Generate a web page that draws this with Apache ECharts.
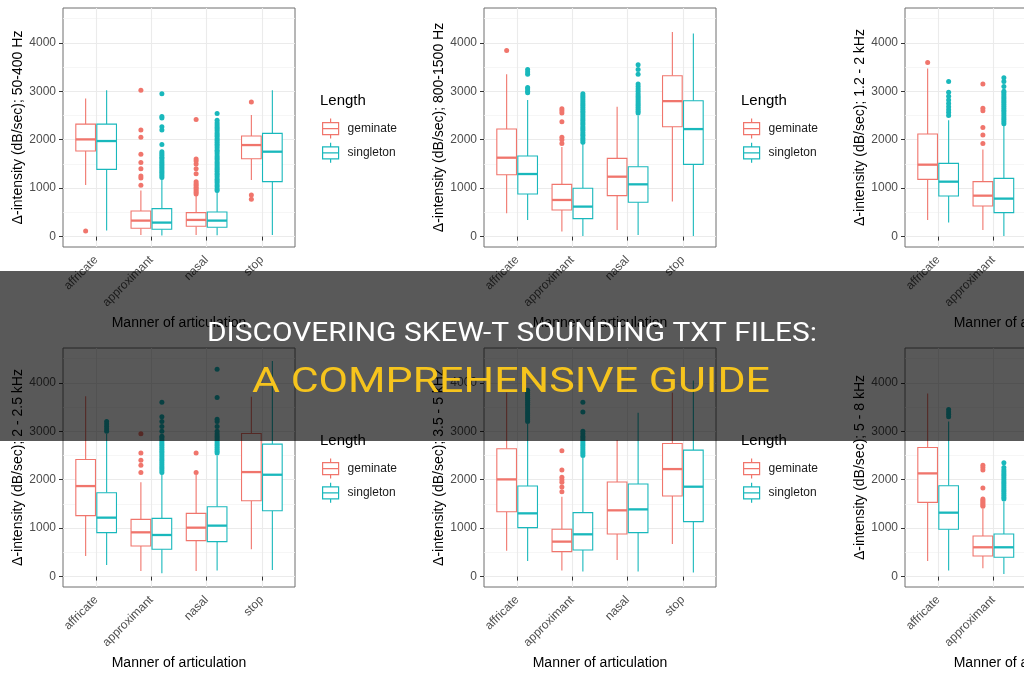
<!DOCTYPE html>
<html><head><meta charset="utf-8">
<script src="https://cdn.jsdelivr.net/npm/echarts@6/dist/echarts.min.js"></script>
<style>html,body{margin:0;padding:0;background:#fff;overflow:hidden;width:1024px;height:680px}#c{width:1270px;height:680px}</style>
</head><body><div id="c"></div>
<script>
const categories = ['affricate', 'approximant', 'nasal', 'stop'];
const groups = ['geminate', 'singleton'];
const yTicks = [0, 1000, 2000, 3000, 4000];
const yMinorTicks = [500, 1500, 2500, 3500, 4500];
const yTitles = [
  'Δ-intensity (dB/sec); 50-400 Hz',
  'Δ-intensity (dB/sec); 800-1500 Hz',
  'Δ-intensity (dB/sec); 1.2 - 2 kHz',
  'Δ-intensity (dB/sec); 2 - 2.5 kHz',
  'Δ-intensity (dB/sec); 3.5 - 5 kHz',
  'Δ-intensity (dB/sec); 5 - 8 kHz'
];
const xTitle = 'Manner of articulation';
const legendTitle = 'Length';
const bannerLine1 = 'DISCOVERING SKEW-T SOUNDING TXT FILES:';
const bannerLine2 = 'A COMPREHENSIVE GUIDE';

// box stats per category: [lower whisker, Q1, median, Q3, upper whisker]
const p1Gem = [[1065,1766,2007,2323,2852],[34,172,330,529,950],[34,213,344,495,880],[1168,1608,1890,2076,2509]];
const p1Sin = [[124,1388,1973,2323,3024],[21,151,289,577,1200],[27,192,330,509,940],[34,1134,1753,2131,3024]];
const p2Gem = [[481,1278,1629,2220,3354],[103,550,756,1079,1850],[137,845,1237,1615,2680],[722,2268,2797,3320,4227]];
const p2Sin = [[344,880,1292,1663,2818],[14,371,619,997,1930],[34,708,1079,1443,2500],[14,1491,2220,2804,4192]];
const p3Gem = [[344,1182,1485,2117,3471],[137,632,845,1134,1800],[200,800,1200,1700,2800],[500,1900,2600,3200,4200]];
const p3Sin = [[289,838,1134,1512,2400],[14,495,784,1203,2300],[100,700,1100,1600,2900],[50,1300,2000,2700,4100]];
const p4Gem = [[426,1258,1869,2419,3725],[117,632,914,1182,1950],[117,742,1010,1306,2100],[564,1567,2158,2955,3711]];
const p4Sin = [[241,907,1217,1732,2950],[69,564,859,1203,2150],[124,722,1052,1443,2500],[137,1361,2103,2735,4454]];
const p5Gem = [[536,1340,2007,2639,3800],[124,515,722,976,1650],[344,880,1368,1952,2818],[674,1663,2220,2749,3800]];
const p5Sin = [[323,1010,1306,1869,3150],[103,550,873,1320,2450],[103,907,1388,1911,3381],[82,1134,1856,2612,4050]];
const p6Gem = [[323,1533,2131,2667,3780],[172,426,605,838,1400],[100,600,900,1300,2300],[300,1500,2100,2700,4000]];
const p6Sin = [[124,976,1320,1876,3200],[55,399,605,880,1550],[50,500,800,1200,2200],[50,1000,1600,2300,3900]];

// outliers per category
const p1GemOut = [[117],[1060,1210,1250,1400,1530,1700,2050,2200,3020],[880,915,950,990,1020,1060,1090,1130,1300,1400,1500,1560,1600,2420],[770,860,2780]];
const p1SinOut = [[],[1220,1255,1290,1330,1360,1395,1430,1470,1500,1535,1570,1610,1640,1680,1715,1750,1900,2200,2270,2450,2480,2950],
  [950,985,1030,1065,1110,1150,1185,1230,1270,1305,1350,1390,1425,1470,1510,1545,1590,1630,1665,1710,1750,1785,1830,1870,1905,1950,1990,2025,2070,2110,2145,2190,2230,2270,2310,2350,2400,2540],[]];
const p2GemOut = [[3842],[1920,2000,2050,2370,2550,2600,2640],[],[]];
const p2SinOut = [[2970,3000,3050,3080,3350,3400,3450],
  [1950,1990,2030,2075,2110,2150,2195,2230,2270,2315,2350,2390,2430,2470,2510,2550,2590,2630,2670,2710,2750,2790,2830,2870,2910,2950],
  [2550,2590,2630,2670,2710,2750,2790,2830,2870,2910,2950,3000,3050,3100,3150,3350,3450,3550],[]];
const p3GemOut = [[3595],[1920,2100,2250,2600,2650,3150],[],[]];
const p3SinOut = [[2500,2560,2620,2680,2750,2820,2900,2980,3200],
  [2330,2370,2410,2450,2490,2530,2575,2610,2650,2690,2730,2775,2810,2850,2890,2930,2970,3000,3100,3200,3280],[],[]];
const p4GemOut = [[],[2150,2300,2400,2550,2950],[2150,2550],[]];
const p4SinOut = [[3000,3050,3100,3150,3200],
  [2150,2190,2230,2270,2310,2350,2390,2430,2470,2510,2550,2590,2630,2670,2710,2750,2790,2830,2870,2900,3000,3100,3200,3300,3600],
  [2550,2590,2630,2670,2710,2750,2790,2830,2870,2910,2950,3000,3100,3200,3250,3700,4280],[]];
const p5GemOut = [[],[1750,1850,1950,2000,2050,2200,2600],[],[]];
const p5SinOut = [[3200,3240,3280,3320,3360,3400,3440,3480,3520,3560,3600,3640,3680,3720,3760,3800,3850],
  [2500,2540,2580,2620,2660,2700,2740,2780,2820,2860,2900,2950,3000,3400,3600],[],[]];
const p6GemOut = [[],[1450,1480,1510,1540,1570,1600,1830,2200,2250,2300],[],[]];
const p6SinOut = [[3300,3350,3400,3450],
  [1600,1640,1680,1720,1760,1800,1840,1880,1920,1960,2000,2040,2080,2120,2160,2200,2250,2350],[],[]];

const panelStats = [[p1Gem,p1Sin],[p2Gem,p2Sin],[p3Gem,p3Sin],[p4Gem,p4Sin],[p5Gem,p5Sin],[p6Gem,p6Sin]];
const panelOut = [[p1GemOut,p1SinOut],[p2GemOut,p2SinOut],[p3GemOut,p3SinOut],[p4GemOut,p4SinOut],[p5GemOut,p5SinOut],[p6GemOut,p6SinOut]];

// ---------- styling / layout ----------
const FONT = '"Liberation Sans", Arial, Helvetica, sans-serif';
const COLORS = ['#F0756C', '#19B8BC'];
const DODGE = 0.19, HALF = 0.178;
const G_LEFT = 63, G_TOP = 8, G_W = 232, G_H = 239, COL_STEP = 421, ROW_STEP = 340;
const Y_MIN = -215, Y_MAX = 4720;

function boxRenderer(color) {
  return function (params, api) {
    const x = api.value(0);
    const pMin = api.coord([x, api.value(1)]);
    const pQ1 = api.coord([x, api.value(2)]);
    const pMed = api.coord([x, api.value(3)]);
    const pQ3 = api.coord([x, api.value(4)]);
    const pMax = api.coord([x, api.value(5)]);
    const l = api.coord([x - HALF, 0])[0];
    const r = api.coord([x + HALF, 0])[0];
    const ls = { stroke: color, lineWidth: 1.1 };
    return {
      type: 'group',
      children: [
        { type: 'line', shape: { x1: pMin[0], y1: pMin[1], x2: pQ1[0], y2: pQ1[1] }, style: ls },
        { type: 'line', shape: { x1: pQ3[0], y1: pQ3[1], x2: pMax[0], y2: pMax[1] }, style: ls },
        { type: 'rect', shape: { x: l, y: pQ3[1], width: r - l, height: pQ1[1] - pQ3[1] }, style: { fill: '#fff', stroke: color, lineWidth: 1.1 } },
        { type: 'line', shape: { x1: l, y1: pMed[1], x2: r, y2: pMed[1] }, style: { stroke: color, lineWidth: 2.3 } }
      ]
    };
  };
}

const grid = [], xAxis = [], yAxis = [], series = [], legend = [], title = [];
const legendIcon = 'path://M1,4L17,4L17,16L1,16Z M1,10L17,10 M9,0L9,4 M9,16L9,20';

for (let p = 0; p < 6; p++) {
  const col = p % 3, row = Math.floor(p / 3);
  const gl = G_LEFT + col * COL_STEP, gt = G_TOP + row * ROW_STEP;
  grid.push({ left: gl, top: gt, width: G_W, height: G_H, show: true, borderColor: '#6e6e6e', borderWidth: 1, backgroundColor: '#fff' });
  xAxis.push({
    gridIndex: p, type: 'value', min: 0.4, max: 4.6,
    name: xTitle, nameLocation: 'middle', nameGap: 69,
    nameTextStyle: { fontFamily: FONT, fontSize: 14, color: '#000' },
    axisLine: { show: false },
    axisTick: { show: true, customValues: [1, 2, 3, 4], length: 4, lineStyle: { color: '#333' } },
    axisLabel: { customValues: [1, 2, 3, 4], rotate: 45, margin: 11, fontFamily: FONT, fontSize: 12, color: '#4d4d4d',
      formatter: v => categories[Math.round(v) - 1] },
    splitLine: { show: true, lineStyle: { color: '#ebebeb', width: 1.1 } }
  });
  yAxis.push({
    gridIndex: p, type: 'value', min: Y_MIN, max: Y_MAX,
    name: yTitles[p], nameLocation: 'middle', nameGap: 37, nameRotate: 90,
    nameTextStyle: { fontFamily: FONT, fontSize: 14, color: '#000' },
    axisLine: { show: false },
    axisTick: { show: true, customValues: yTicks, length: 4, lineStyle: { color: '#333' } },
    axisLabel: { customValues: yTicks, margin: 7, fontFamily: FONT, fontSize: 12, color: '#4d4d4d',
      formatter: v => String(v) },
    splitLine: { show: true, lineStyle: { color: '#ebebeb', width: 1.1 } }
  });
  yAxis.push({
    gridIndex: p, type: 'value', min: Y_MIN, max: Y_MAX, position: 'left',
    axisLine: { show: false }, axisLabel: { show: false },
    axisTick: { show: false, customValues: yMinorTicks },
    splitLine: { show: true, lineStyle: { color: '#f4f4f4', width: 0.8 } }
  });
  for (let g = 0; g < 2; g++) {
    const off = g === 0 ? -DODGE : DODGE;
    const boxData = panelStats[p][g].map((s, i) => [i + 1 + off].concat(s));
    series.push({
      type: 'custom', name: groups[g], xAxisIndex: p, yAxisIndex: p * 2, z: 3,
      itemStyle: { color: COLORS[g] },
      encode: { x: 0, y: [1, 2, 3, 4, 5] },
      renderItem: boxRenderer(COLORS[g]),
      data: boxData, silent: true
    });
    const pts = [];
    panelOut[p][g].forEach((vals, i) => vals.forEach(v => pts.push([i + 1 + off, v])));
    series.push({
      type: 'scatter', name: groups[g], xAxisIndex: p, yAxisIndex: p * 2, z: 4,
      symbolSize: 5, itemStyle: { color: COLORS[g], opacity: 1 }, data: pts, silent: true
    });
  }
  legend.push({
    left: gl + 259, top: gt + 110, orient: 'vertical', itemWidth: 18, itemHeight: 20, itemGap: 3,
    selectedMode: false, padding: 0, icon: legendIcon,
    textStyle: { fontFamily: FONT, fontSize: 12, color: '#1a1a1a', padding: [0, 0, 0, 3] },
    data: groups.map((n, i) => ({ name: n, itemStyle: { color: '#fff', borderColor: COLORS[i], borderWidth: 1.2 } }))
  });
  title.push({ text: legendTitle, left: gl + 257, top: gt + 85, padding: 0,
    textStyle: { fontFamily: FONT, fontSize: 15, fontWeight: 'normal', color: '#000' } });
}

// fit banner text widths to the reference (condensed look)
const BANNER_FONT1 = '26px Roboto, "Liberation Sans", sans-serif';
const BANNER_FONT2 = '35px Roboto, "Liberation Sans", sans-serif';
const ctx = document.createElement('canvas').getContext('2d');
ctx.font = BANNER_FONT1; const w1 = ctx.measureText(bannerLine1).width;
ctx.font = BANNER_FONT2; const w2 = ctx.measureText(bannerLine2).width;
const sx1 = 610 / w1, sx2 = 518 / w2;

const chart = echarts.init(document.getElementById('c'), null, { renderer: 'canvas' });
chart.setOption({
  animation: false,
  backgroundColor: '#fff',
  grid, xAxis, yAxis, series, legend, title,
  graphic: [
    { type: 'rect', z: 100, shape: { x: 0, y: 271, width: 1270, height: 170 }, style: { fill: 'rgba(0,0,0,0.65)' } },
    { type: 'text', z: 101, x: 512, y: 334, scaleX: sx1, style: { text: bannerLine1, fill: '#fff', font: BANNER_FONT1, textAlign: 'center', textVerticalAlign: 'middle' } },
    { type: 'text', z: 101, x: 511, y: 383, scaleX: sx2, style: { text: bannerLine2, fill: '#f6c41d', font: BANNER_FONT2, textAlign: 'center', textVerticalAlign: 'middle' } }
  ]
});
</script></body></html>
